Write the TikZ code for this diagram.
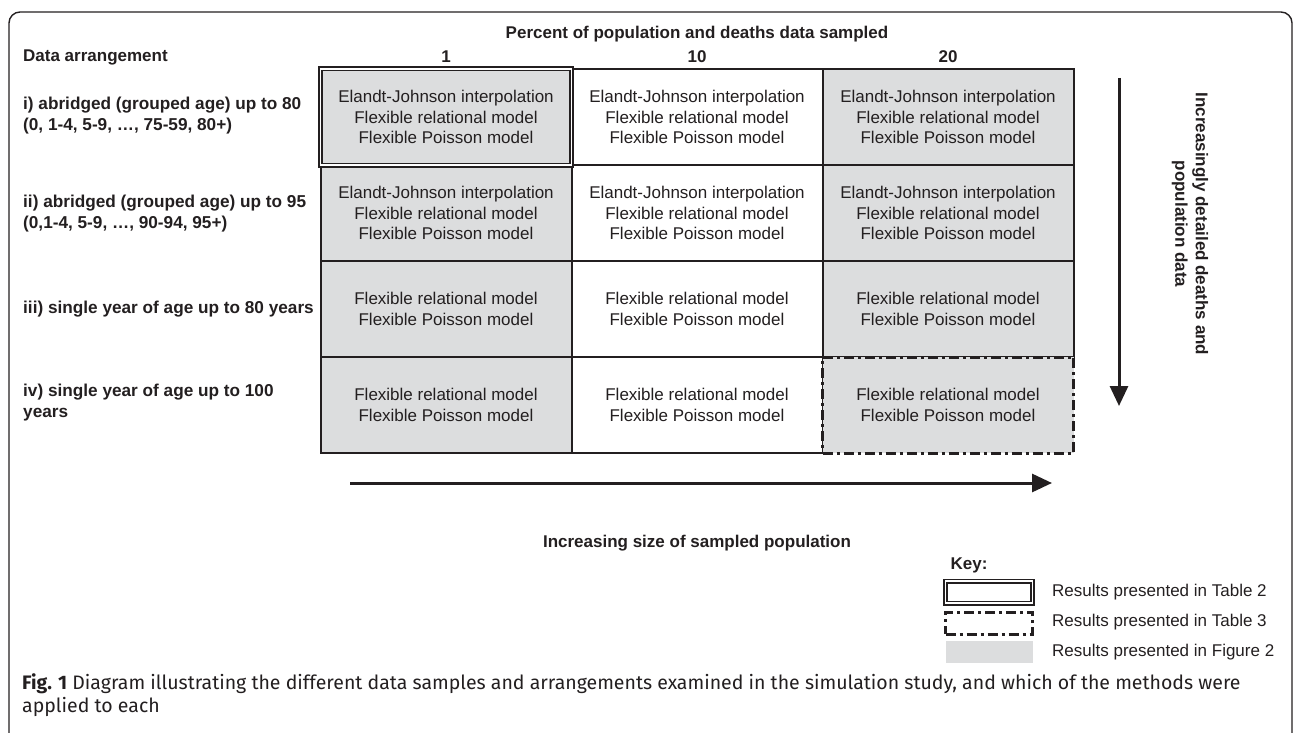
\documentclass[tikz,border=0pt]{standalone}
\usepackage{fontspec}
\setmainfont{Liberation Sans}
\newfontfamily\capfont{Fira Sans}
\usetikzlibrary{arrows.meta}
\definecolor{ink}{HTML}{231F20}
\definecolor{cellgray}{HTML}{DCDDDE}
\begin{document}
\begin{tikzpicture}[x=1pt,y=-1pt,
  every node/.style={text=ink, font=\fontsize{17}{20.5}\selectfont},
  cellbox/.style={draw=ink, line width=2pt, minimum width=251pt, minimum height=96pt, inner sep=0pt, align=center},
  greycell/.style={cellbox, fill=cellgray},
  plaincell/.style={cellbox, fill=white},
  dblcell/.style={cellbox, fill=cellgray, line width=1.6pt, double=white, double distance=1.8pt},
  dashcell/.style={cellbox, fill=cellgray, line width=3pt, dash pattern=on 10pt off 4pt on 3pt off 4pt},
  hdr/.style={font=\fontsize{17}{20.5}\selectfont\bfseries},
  rowlab/.style={font=\fontsize{17.2}{21}\selectfont\bfseries, anchor=west, align=left, inner sep=0pt},
  keytext/.style={anchor=west, inner sep=0pt},
  bigarrow/.style={draw=ink, line width=3pt, -{Triangle[length=20pt,width=18pt]}},
  keybox/.style={minimum width=87pt, minimum height=22pt, inner sep=0pt},
  captext/.style={anchor=base west, inner sep=0pt, font=\capfont\fontsize{19.5}{23}\selectfont}
]
\useasboundingbox (0,0) rectangle (1295,733);
\begin{scope}
\clip (0,0) rectangle (1295,733);
\draw[draw=ink, line width=1.4pt, rounded corners=11pt] (9,12) rectangle (1292,760);
\end{scope}

% headers
\node[hdr] (pct) at (697,34) {Percent of population and deaths data sampled};
\node[hdr, anchor=west, inner sep=0pt] (arr) at (23,57) {Data arrangement};
\node[hdr] (h1) at (446,57) {1};
\node[hdr] (h10) at (697,57) {10};
\node[hdr] (h20) at (948,57) {20};

% row labels
\node[rowlab] (r1) at (23,116) {i) abridged (grouped age) up to 80\\(0, 1-4, 5-9, \dots, 75-59, 80+)};
\node[rowlab] (r2) at (23,214) {ii) abridged (grouped age) up to 95\\(0,1-4, 5-9, \dots, 90-94, 95+)};
\node[rowlab] (r3) at (23,309) {iii) single year of age up to 80 years};
\node[rowlab] (r4) at (23,403) {iv) single year of age up to 100\\years};

% cells
\node[greycell] (c21) at (446,213) {Elandt-Johnson interpolation\\Flexible relational model\\Flexible Poisson model};
\node[greycell] (c31) at (446,309) {Flexible relational model\\Flexible Poisson model};
\node[greycell] (c41) at (446,405) {Flexible relational model\\Flexible Poisson model};
\node[plaincell] (c12) at (697,117) {Elandt-Johnson interpolation\\Flexible relational model\\Flexible Poisson model};
\node[plaincell] (c22) at (697,213) {Elandt-Johnson interpolation\\Flexible relational model\\Flexible Poisson model};
\node[plaincell] (c32) at (697,309) {Flexible relational model\\Flexible Poisson model};
\node[plaincell] (c42) at (697,405) {Flexible relational model\\Flexible Poisson model};
\node[greycell] (c13) at (948,117) {Elandt-Johnson interpolation\\Flexible relational model\\Flexible Poisson model};
\node[greycell] (c23) at (948,213) {Elandt-Johnson interpolation\\Flexible relational model\\Flexible Poisson model};
\node[greycell] (c33) at (948,309) {Flexible relational model\\Flexible Poisson model};
\node[dblcell] (c11) at (446,117) {Elandt-Johnson interpolation\\Flexible relational model\\Flexible Poisson model};
\node[dashcell] (c43) at (948,405) {Flexible relational model\\Flexible Poisson model};

% arrows
\coordinate (va) at (1119,78);
\coordinate (vb) at (1119,406);
\draw[bigarrow] (va) -- (vb);
\node[hdr, rotate=-90, align=center] (vlab) at (1190,224) {Increasingly detailed deaths and\\population data};
\coordinate (ha) at (350,483);
\coordinate (hb) at (1052,483);
\draw[bigarrow] (ha) -- (hb);
\node[hdr] (hlab) at (697,543) {Increasing size of sampled population};

% key
\node[hdr] (key) at (969,565) {Key:};
\node[keybox, draw=ink, line width=1.6pt, double=white, double distance=1.8pt] (k1) at (989,592) {};
\node[keybox, draw=ink, line width=3pt, dash pattern=on 10pt off 4pt on 3pt off 4pt] (k2) at (989,623) {};
\node[keybox, fill=cellgray] (k3) at (989,652) {};
\node[keytext] (t1) at (1052,592) {Results presented in Table 2};
\node[keytext] (t2) at (1052,622) {Results presented in Table 3};
\node[keytext] (t3) at (1052,652) {Results presented in Figure 2};

% caption
\node[captext] (cap1) at (22,689) {\textbf{Fig. 1} Diagram illustrating the different data samples and arrangements examined in the simulation study, and which of the methods were};
\node[captext] (cap2) at (22,712) {applied to each};
\end{tikzpicture}
\end{document}
